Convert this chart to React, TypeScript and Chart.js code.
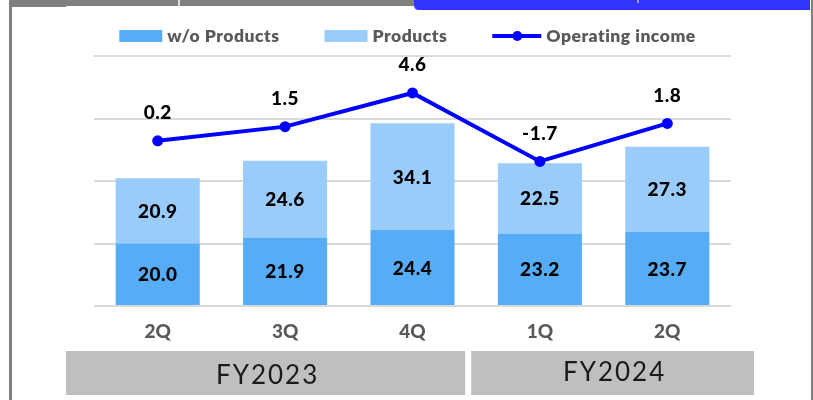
import React, { useEffect, useRef } from 'react';
import { Chart, registerables } from 'chart.js';

Chart.register(...registerables);

const categories = ['2Q', '3Q', '4Q', '1Q', '2Q'];
const fiscalYears = ['FY2023', 'FY2024'];
const fiscalYearSpans = [3, 2];
const seriesLabels = ['w/o Products', 'Products', 'Operating income'];
const withoutProducts = [20.0, 21.9, 24.4, 23.2, 23.7];
const products = [20.9, 24.6, 34.1, 22.5, 27.3];
const operatingIncome = [0.2, 1.5, 4.6, -1.7, 1.8];

const DARK = '#56ADF5';
const LIGHT = '#99CCFA';
const LINE = '#0000FF';
const GRID = '#D9D9D9';
const FRAME = '#7F7F7F';

const framePlugin = {
  id: 'frame',
  beforeDraw(chart: any) {
    const ctx = chart.ctx;
    ctx.save();
    ctx.fillStyle = '#FFFFFF';
    ctx.fillRect(0, 0, chart.width, chart.height);
    ctx.fillStyle = FRAME;
    ctx.fillRect(9, 0, 3, chart.height);
    ctx.fillRect(811, 0, 2, chart.height);
    ctx.fillRect(9, 0, 405, 6);
    ctx.fillRect(9, 0, 57, 7);
    ctx.fillStyle = '#DDDDDD';
    ctx.fillRect(178, 0, 2, 6);
    ctx.fillStyle = '#3333FF';
    ctx.beginPath();
    ctx.moveTo(414, 0);
    ctx.lineTo(810, 0);
    ctx.lineTo(810, 10);
    ctx.lineTo(419, 10);
    ctx.quadraticCurveTo(414, 10, 414, 5);
    ctx.closePath();
    ctx.fill();
    ctx.fillStyle = '#9999FF';
    ctx.fillRect(637, 0, 2, 3);
    ctx.restore();
  },
};

const labelsPlugin = {
  id: 'valueLabels',
  afterDatasetsDraw(chart: any) {
    const ctx = chart.ctx;
    ctx.save();
    ctx.font = '900 19px Lato';
    (ctx as any).letterSpacing = '0.5px';
    ctx.fillStyle = '#000000';
    ctx.textAlign = 'center';
    ctx.textBaseline = 'middle';
    chart.data.datasets.forEach((ds: any, di: number) => {
      const meta = chart.getDatasetMeta(di);
      meta.data.forEach((el: any, i: number) => {
        const v = ds.data[i];
        const txt = v.toFixed(1);
        if (ds.type === 'line') {
          ctx.fillText(txt, el.x, el.y - 28);
        } else {
          const p = el.getProps(['x', 'y', 'base'], true);
          ctx.fillText(txt, p.x, (p.y + p.base) / 2 + 1);
        }
      });
    });
    ctx.restore();
  },
};

const legendPlugin = {
  id: 'customLegend',
  afterDraw(chart: any) {
    const ctx = chart.ctx;
    ctx.save();
    ctx.font = '800 17.5px Lato';
    (ctx as any).letterSpacing = '0.5px';
    const items = [
      { kind: 'box', color: DARK, label: chart.data.datasets[1].label },
      { kind: 'box', color: LIGHT, label: chart.data.datasets[2].label },
      { kind: 'line', color: LINE, label: chart.data.datasets[0].label },
    ];
    const gapText = 5;
    const gapItem = 45;
    const widths = items.map((it) => (it.kind === 'box' ? 43 : 49) + gapText + ctx.measureText(it.label).width);
    const total = widths.reduce((a, b) => a + b, 0) + gapItem * (items.length - 1);
    let x = 407.5 - total / 2;
    const cy = 36;
    items.forEach((it, i) => {
      if (it.kind === 'box') {
        ctx.fillStyle = it.color;
        ctx.fillRect(x, cy - 6, 43, 12);
        x += 43;
      } else {
        ctx.strokeStyle = it.color;
        ctx.lineWidth = 4;
        ctx.beginPath();
        ctx.moveTo(x, cy);
        ctx.lineTo(x + 49, cy);
        ctx.stroke();
        ctx.fillStyle = it.color;
        ctx.beginPath();
        ctx.arc(x + 25, cy, 5, 0, Math.PI * 2);
        ctx.fill();
        x += 49;
      }
      x += gapText;
      ctx.fillStyle = '#595959';
      ctx.textAlign = 'left';
      ctx.textBaseline = 'middle';
      ctx.fillText(it.label, x, cy);
      x += widths[i] - (it.kind === 'box' ? 43 : 49) - gapText + gapItem;
    });
    ctx.restore();
  },
};

const fiscalPlugin = {
  id: 'fiscalBoxes',
  afterDraw(chart: any) {
    const ctx = chart.ctx;
    const xs = chart.scales.x;
    const area = chart.chartArea;
    const step = (area.right - area.left) / categories.length;
    ctx.save();
    let start = 0;
    fiscalYears.forEach((fy, gi) => {
      const end = start + fiscalYearSpans[gi];
      const first = gi === 0;
      const last = gi === fiscalYears.length - 1;
      const boundaryL = xs.getPixelForValue(start) - step / 2;
      const boundaryR = xs.getPixelForValue(end - 1) + step / 2;
      const left = first ? area.left - 28 : boundaryL - 5;
      const right = last ? area.right + 23 : boundaryR - 11;
      const top = 351;
      const bottom = 395;
      ctx.fillStyle = '#BFBFBF';
      ctx.fillRect(left, top, right - left, bottom - top);
      ctx.fillStyle = '#1A1A1A';
      ctx.font = '26px Lato';
      (ctx as any).letterSpacing = '2px';
      ctx.textAlign = 'center';
      ctx.textBaseline = 'middle';
      ctx.fillText(fy, (left + right) / 2 + 2, first ? 376 : 373);
      start = end;
    });
    ctx.restore();
  },
};

export default function App() {
  const ref = useRef<HTMLCanvasElement>(null);
  useEffect(() => {
    const canvas = ref.current!;
    const chart = new Chart(canvas, {
      type: 'bar',
      data: {
        labels: categories,
        datasets: [
          {
            type: 'line',
            label: seriesLabels[2],
            data: operatingIncome,
            yAxisID: 'y1',
            borderColor: LINE,
            backgroundColor: LINE,
            borderWidth: 4,
            pointRadius: 5.5,
            pointHoverRadius: 5.5,
            pointBackgroundColor: LINE,
            pointBorderWidth: 0,
            tension: 0,
            order: 0,
          } as any,
          {
            type: 'bar',
            label: seriesLabels[0],
            data: withoutProducts,
            backgroundColor: DARK,
            stack: 's',
            yAxisID: 'y',
            order: 1,
            barPercentage: 0.66,
            categoryPercentage: 1,
          },
          {
            type: 'bar',
            label: seriesLabels[1],
            data: products,
            backgroundColor: LIGHT,
            stack: 's',
            yAxisID: 'y',
            order: 1,
            barPercentage: 0.66,
            categoryPercentage: 1,
          },
        ],
      },
      options: {
        responsive: false,
        animation: false,
        devicePixelRatio: 1,
        layout: { padding: { top: 56, left: 94, right: 82, bottom: 0 } },
        plugins: { legend: { display: false }, tooltip: { enabled: false } },
        scales: {
          x: {
            stacked: true,
            grid: { display: false, drawTicks: false },
            border: { display: false },
            ticks: { color: '#595959', font: { family: 'Lato', weight: '900', size: 19 }, padding: 14 },
            afterFit: (s: any) => { s.height = 94; },
          },
          y: {
            stacked: true,
            min: 0,
            max: 80,
            ticks: { display: false, stepSize: 20 },
            grid: { color: GRID, lineWidth: 2, drawTicks: false },
            border: { display: false },
            afterFit: (s: any) => { s.width = 0; },
          },
          y1: { display: false, min: -15, max: 8 },
        },
      } as any,
      plugins: [framePlugin, labelsPlugin, legendPlugin, fiscalPlugin],
    });
    return () => chart.destroy();
  }, []);
  return (
    <div style={{ position: 'fixed', left: 0, top: 0, width: 813, height: 400 }}>
      <canvas ref={ref} width={813} height={400} style={{ width: 813, height: 400, display: 'block' }} />
    </div>
  );
}
